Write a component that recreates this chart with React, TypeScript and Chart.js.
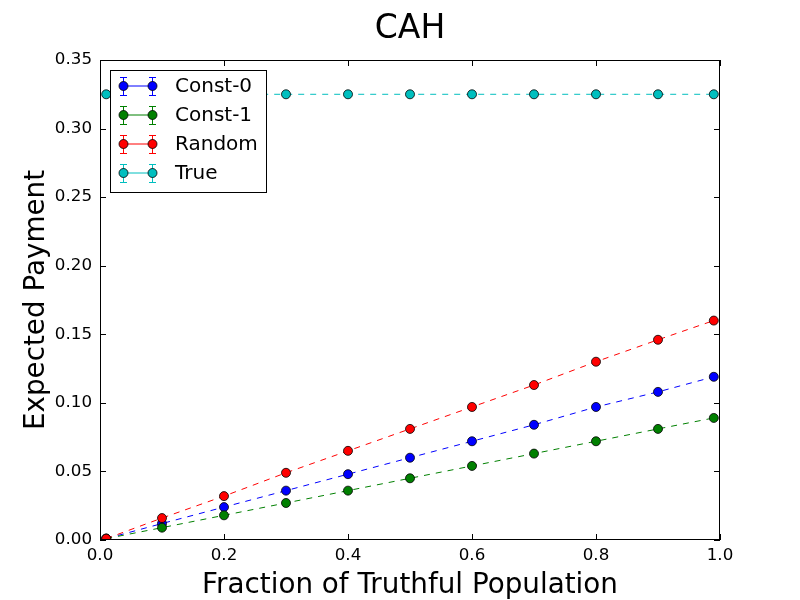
import { useRef, useEffect } from "react";
import { Chart, registerables } from "chart.js";

Chart.register(...registerables);

// fraction of truthful population
const xValues = [0.01, 0.1, 0.2, 0.3, 0.4, 0.5, 0.6, 0.7, 0.8, 0.9, 0.99];

// expected payment for each strategy
const const0 = [0.001, 0.012, 0.024, 0.036, 0.048, 0.06, 0.072, 0.084, 0.097, 0.108, 0.119];
const const1 = [0.001, 0.009, 0.018, 0.027, 0.036, 0.045, 0.054, 0.063, 0.072, 0.081, 0.089];
const random = [0.001, 0.016, 0.032, 0.049, 0.065, 0.081, 0.097, 0.113, 0.13, 0.146, 0.16];
const truth = [0.325, 0.325, 0.325, 0.325, 0.325, 0.325, 0.325, 0.325, 0.325, 0.325, 0.325];

const seriesNames = ["Const-0", "Const-1", "Random", "True"];
const seriesColors = ["#0000ff", "#008000", "#ff0000", "#00bfbf"];

const FONT = "'DejaVu Sans', sans-serif";

// frame + inward ticks on all four sides, title, legend box
const decorPlugin = {
  id: "decor",
  afterDraw(chart) {
    const ctx = chart.ctx;
    const { left, right, top, bottom } = chart.chartArea;
    const xs = chart.scales.x;
    const ys = chart.scales.y;
    ctx.save();
    ctx.strokeStyle = "#000";
    ctx.lineWidth = 1;
    ctx.strokeRect(left + 0.5, top + 0.5, right - left - 1, bottom - top - 1);
    const tl = 6;
    ctx.beginPath();
    xs.ticks.forEach((t) => {
      const px = Math.round(xs.getPixelForValue(t.value)) + 0.5;
      ctx.moveTo(px, bottom);
      ctx.lineTo(px, bottom - tl);
      ctx.moveTo(px, top);
      ctx.lineTo(px, top + tl);
    });
    ys.ticks.forEach((t) => {
      const py = Math.round(ys.getPixelForValue(t.value)) + 0.5;
      ctx.moveTo(left, py);
      ctx.lineTo(left + tl, py);
      ctx.moveTo(right, py);
      ctx.lineTo(right - tl, py);
    });
    ctx.stroke();

    // title
    ctx.fillStyle = "#000";
    ctx.font = `33px ${FONT}`;
    ctx.textAlign = "center";
    ctx.textBaseline = "middle";
    ctx.fillText("CAH", (left + right) / 2, 29);

    // legend
    const bx = 110, by = 70, bw = 156, bh = 122;
    ctx.fillStyle = "#fff";
    ctx.fillRect(bx, by, bw, bh);
    ctx.strokeRect(bx + 0.5, by + 0.5, bw, bh);
    seriesNames.forEach((name, i) => {
      const y = 86 + i * 29;
      const c = seriesColors[i];
      ctx.strokeStyle = c;
      ctx.lineWidth = 1;
      ctx.beginPath();
      ctx.moveTo(123, y);
      ctx.lineTo(152, y);
      [123, 152].forEach((mx) => {
        ctx.moveTo(mx + 0.5, y - 9);
        ctx.lineTo(mx + 0.5, y + 9);
        ctx.moveTo(mx - 3, y - 9 + 0.5);
        ctx.lineTo(mx + 4, y - 9 + 0.5);
        ctx.moveTo(mx - 3, y + 9 + 0.5);
        ctx.lineTo(mx + 4, y + 9 + 0.5);
      });
      ctx.stroke();
      [123, 152].forEach((mx) => {
        ctx.beginPath();
        ctx.arc(mx + 0.5, y, 4.5, 0, Math.PI * 2);
        ctx.fillStyle = c;
        ctx.fill();
        ctx.strokeStyle = "#000";
        ctx.lineWidth = 0.8;
        ctx.stroke();
      });
      ctx.fillStyle = "#000";
      ctx.font = `20px ${FONT}`;
      ctx.textAlign = "left";
      ctx.textBaseline = "middle";
      ctx.fillText(name, 175, y + 1);
    });
    ctx.restore();
  },
};

const App = () => {
  const chartRef = useRef(null);
  const chartInstance = useRef(null);

  useEffect(() => {
    const ctx = chartRef.current.getContext("2d");
    if (chartInstance.current) {
      chartInstance.current.destroy();
    }

    const values = [const0, const1, random, truth];
    const datasets = values.map((vals, i) => ({
      label: seriesNames[i],
      data: xValues.map((x, j) => ({ x: x, y: vals[j] })),
      borderColor: seriesColors[i],
      backgroundColor: seriesColors[i],
      borderWidth: 1,
      borderDash: [6, 6],
      pointRadius: 4.5,
      pointBorderColor: "#000",
      pointBorderWidth: 0.8,
      pointBackgroundColor: seriesColors[i],
      fill: false,
      order: 4 - i, // later series on top, like matplotlib
    }));

    chartInstance.current = new Chart(ctx, {
      type: "line",
      data: { datasets: datasets },
      options: {
        animation: false,
        responsive: false,
        layout: { padding: { top: 60, right: 80, left: 0, bottom: 0 } },
        plugins: {
          legend: { display: false },
          title: { display: false },
          tooltip: { enabled: false },
        },
        scales: {
          x: {
            type: "linear",
            min: 0,
            max: 1,
            grid: { display: false, tickLength: 0 },
            border: { display: false },
            ticks: {
              stepSize: 0.2,
              padding: 6,
              color: "#000",
              font: { family: FONT, size: 16.7 },
              callback: (v) => Number(v).toFixed(1),
            },
            title: {
              display: true,
              text: "Fraction of Truthful Population",
              color: "#000",
              font: { family: FONT, size: 27.8 },
              padding: { top: 0, bottom: -2 },
            },
            afterFit: (scale) => {
              scale.height = 60;
            },
          },
          y: {
            type: "linear",
            min: 0,
            max: 0.35,
            grid: { display: false, tickLength: 0 },
            border: { display: false },
            ticks: {
              stepSize: 0.05,
              padding: 8,
              color: "#000",
              font: { family: FONT, size: 16.7 },
              callback: (v) => Number(v).toFixed(2),
            },
            title: {
              display: true,
              text: "Expected Payment",
              color: "#000",
              font: { family: FONT, size: 27.8 },
              padding: { top: 20, bottom: 0 },
            },
            afterFit: (scale) => {
              scale.width = 100;
            },
          },
        },
      },
      plugins: [decorPlugin],
    });

    return () => {
      if (chartInstance.current) {
        chartInstance.current.destroy();
        chartInstance.current = null;
      }
    };
  }, []);

  return (
    <div style={{ position: "fixed", left: 0, top: 0, width: 800, height: 600, background: "#fff" }}>
      <canvas ref={chartRef} width="800" height="600"></canvas>
    </div>
  );
};

export default App;
